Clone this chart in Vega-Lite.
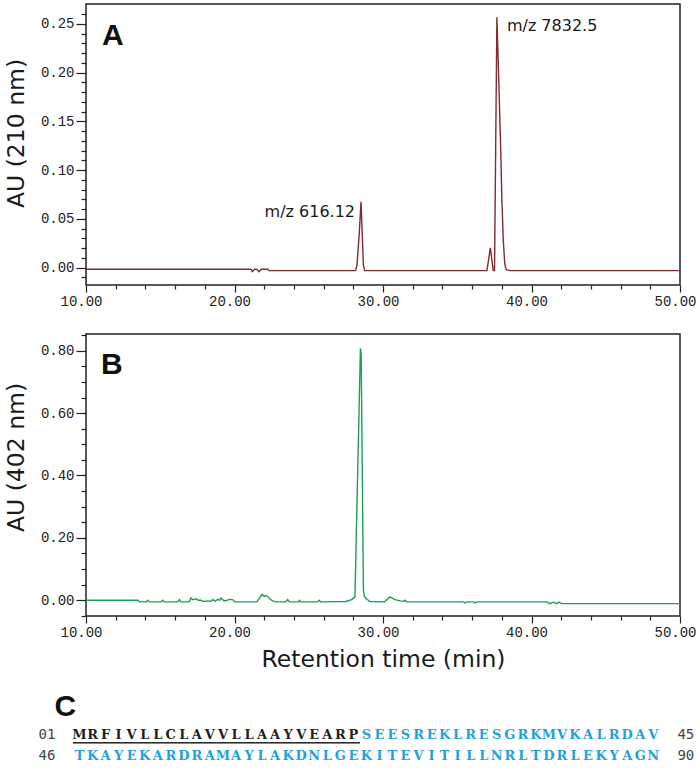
{
"$schema": "https://vega.github.io/schema/vega-lite/v6.json",
"padding": {"left": 3, "top": 3, "right": 0, "bottom": 0},
"spacing": 20,
"config": {
 "view": {"stroke": "#222", "strokeWidth": 1.5},
 "axis": {"labelFont": "Liberation Mono", "labelFontSize": 14, "labelColor": "#222", "tickColor": "#222", "tickWidth": 1.2, "domain": false, "grid": false, "labelOverlap": false, "labelFlush": false, "titleFont": "DejaVu Sans", "titleFontSize": 23.5, "titleFontWeight": "normal", "titleColor": "#1a1a1a"}
},
"datasets": {
 "traceA": [
  {"t": 10, "au": -0.0015}, {"t": 21.1, "au": -0.0015}, {"t": 21.2, "au": -0.004}, {"t": 21.35, "au": -0.0015}, {"t": 21.5, "au": -0.0015}, {"t": 21.65, "au": -0.004}, {"t": 21.8, "au": -0.0015}, {"t": 22.25, "au": -0.0015}, {"t": 22.32, "au": -0.003},
  {"t": 28.15, "au": -0.003}, {"t": 28.25, "au": 0.003}, {"t": 28.4, "au": 0.035}, {"t": 28.52, "au": 0.0677}, {"t": 28.6, "au": 0.035}, {"t": 28.68, "au": 0.003}, {"t": 28.76, "au": -0.003},
  {"t": 37.0, "au": -0.003}, {"t": 37.23, "au": 0.0205}, {"t": 37.42, "au": -0.003}, {"t": 37.51, "au": -0.003}, {"t": 37.67, "au": 0.257}, {"t": 37.8, "au": 0.19}, {"t": 37.92, "au": 0.125}, {"t": 38.01, "au": 0.068}, {"t": 38.1, "au": 0.028}, {"t": 38.2, "au": 0.004}, {"t": 38.3, "au": -0.002}, {"t": 38.55, "au": -0.003}, {"t": 50, "au": -0.003}
 ],
 "peaksA": [
  {"t": 28.52, "au": 0.0677, "label": "m/z 616.12", "side": "left"},
  {"t": 37.67, "au": 0.257, "label": "m/z 7832.5", "side": "right"}
 ],
 "traceB": [
  {"t": 10, "au": 0}, {"t": 13.48, "au": 0}, {"t": 13.6, "au": -0.005}, {"t": 14.05, "au": -0.005}, {"t": 14.15, "au": 0}, {"t": 14.25, "au": -0.005}, {"t": 15.05, "au": -0.005}, {"t": 15.16, "au": 0}, {"t": 15.27, "au": -0.005}, {"t": 16.18, "au": -0.005}, {"t": 16.29, "au": 0.002}, {"t": 16.4, "au": -0.005}, {"t": 16.95, "au": -0.005}, {"t": 17.07, "au": 0.0075}, {"t": 17.2, "au": 0.002}, {"t": 17.41, "au": 0.005}, {"t": 17.55, "au": 0}, {"t": 17.74, "au": 0}, {"t": 17.9, "au": -0.004}, {"t": 18.2, "au": -0.002}, {"t": 18.4, "au": -0.004}, {"t": 18.53, "au": 0.002}, {"t": 18.7, "au": -0.003}, {"t": 18.87, "au": 0.003}, {"t": 19.0, "au": 0}, {"t": 19.09, "au": 0.0075}, {"t": 19.2, "au": 0.002}, {"t": 19.32, "au": -0.002}, {"t": 19.5, "au": 0}, {"t": 19.65, "au": 0.003}, {"t": 19.88, "au": 0.002}, {"t": 20.0, "au": -0.005},
  {"t": 21.5, "au": -0.005}, {"t": 21.67, "au": 0.005}, {"t": 21.85, "au": 0.019}, {"t": 22.0, "au": 0.012}, {"t": 22.12, "au": 0.016}, {"t": 22.3, "au": 0.0086}, {"t": 22.45, "au": 0.002}, {"t": 22.57, "au": -0.002}, {"t": 22.8, "au": -0.005}, {"t": 23.45, "au": -0.005}, {"t": 23.58, "au": 0.002}, {"t": 23.7, "au": -0.005}, {"t": 24.3, "au": -0.005}, {"t": 24.37, "au": 0}, {"t": 24.45, "au": -0.005}, {"t": 25.6, "au": -0.005}, {"t": 25.71, "au": 0}, {"t": 25.8, "au": -0.005}, {"t": 27.5, "au": -0.004}, {"t": 27.89, "au": 0.002}, {"t": 28.11, "au": 0.011},
  {"t": 28.48, "au": 0.808}, {"t": 28.53, "au": 0.79}, {"t": 28.68, "au": 0.032}, {"t": 28.75, "au": 0.012}, {"t": 28.9, "au": 0.004}, {"t": 29.12, "au": -0.004}, {"t": 30.1, "au": -0.005}, {"t": 30.47, "au": 0.0107}, {"t": 30.81, "au": 0.002}, {"t": 31.15, "au": -0.002}, {"t": 31.4, "au": -0.003}, {"t": 31.48, "au": 0}, {"t": 31.6, "au": -0.005},
  {"t": 35.41, "au": -0.005}, {"t": 35.52, "au": -0.0086}, {"t": 35.62, "au": -0.005}, {"t": 36.1, "au": -0.005}, {"t": 36.2, "au": -0.0086}, {"t": 36.3, "au": -0.005}, {"t": 41.02, "au": -0.005}, {"t": 41.25, "au": -0.0107}, {"t": 41.47, "au": -0.006}, {"t": 41.7, "au": -0.0107}, {"t": 41.85, "au": -0.006}, {"t": 42.03, "au": -0.0107}, {"t": 50, "au": -0.0107}
 ],
 "lines": [
  {"line": 1, "first": "01", "last": "45"},
  {"line": 2, "first": "46", "last": "90"}
 ],
 "residues": [
  {"n":1,"aa":"M","line":1,"pos":1,"region":"signal peptide"},{"n":2,"aa":"R","line":1,"pos":2,"region":"signal peptide"},{"n":3,"aa":"F","line":1,"pos":3,"region":"signal peptide"},{"n":4,"aa":"I","line":1,"pos":4,"region":"signal peptide"},{"n":5,"aa":"V","line":1,"pos":5,"region":"signal peptide"},{"n":6,"aa":"L","line":1,"pos":6,"region":"signal peptide"},{"n":7,"aa":"L","line":1,"pos":7,"region":"signal peptide"},{"n":8,"aa":"C","line":1,"pos":8,"region":"signal peptide"},{"n":9,"aa":"L","line":1,"pos":9,"region":"signal peptide"},{"n":10,"aa":"A","line":1,"pos":10,"region":"signal peptide"},{"n":11,"aa":"V","line":1,"pos":11,"region":"signal peptide"},{"n":12,"aa":"V","line":1,"pos":12,"region":"signal peptide"},{"n":13,"aa":"L","line":1,"pos":13,"region":"signal peptide"},{"n":14,"aa":"L","line":1,"pos":14,"region":"signal peptide"},{"n":15,"aa":"A","line":1,"pos":15,"region":"signal peptide"},{"n":16,"aa":"A","line":1,"pos":16,"region":"signal peptide"},{"n":17,"aa":"Y","line":1,"pos":17,"region":"signal peptide"},{"n":18,"aa":"V","line":1,"pos":18,"region":"signal peptide"},{"n":19,"aa":"E","line":1,"pos":19,"region":"signal peptide"},{"n":20,"aa":"A","line":1,"pos":20,"region":"signal peptide"},{"n":21,"aa":"R","line":1,"pos":21,"region":"signal peptide"},{"n":22,"aa":"P","line":1,"pos":22,"region":"signal peptide"},
  {"n":23,"aa":"S","line":1,"pos":23,"region":"mature"},{"n":24,"aa":"E","line":1,"pos":24,"region":"mature"},{"n":25,"aa":"E","line":1,"pos":25,"region":"mature"},{"n":26,"aa":"S","line":1,"pos":26,"region":"mature"},{"n":27,"aa":"R","line":1,"pos":27,"region":"mature"},{"n":28,"aa":"E","line":1,"pos":28,"region":"mature"},{"n":29,"aa":"K","line":1,"pos":29,"region":"mature"},{"n":30,"aa":"L","line":1,"pos":30,"region":"mature"},{"n":31,"aa":"R","line":1,"pos":31,"region":"mature"},{"n":32,"aa":"E","line":1,"pos":32,"region":"mature"},{"n":33,"aa":"S","line":1,"pos":33,"region":"mature"},{"n":34,"aa":"G","line":1,"pos":34,"region":"mature"},{"n":35,"aa":"R","line":1,"pos":35,"region":"mature"},{"n":36,"aa":"K","line":1,"pos":36,"region":"mature"},{"n":37,"aa":"M","line":1,"pos":37,"region":"mature"},{"n":38,"aa":"V","line":1,"pos":38,"region":"mature"},{"n":39,"aa":"K","line":1,"pos":39,"region":"mature"},{"n":40,"aa":"A","line":1,"pos":40,"region":"mature"},{"n":41,"aa":"L","line":1,"pos":41,"region":"mature"},{"n":42,"aa":"R","line":1,"pos":42,"region":"mature"},{"n":43,"aa":"D","line":1,"pos":43,"region":"mature"},{"n":44,"aa":"A","line":1,"pos":44,"region":"mature"},{"n":45,"aa":"V","line":1,"pos":45,"region":"mature"},
  {"n":46,"aa":"T","line":2,"pos":1,"region":"mature"},{"n":47,"aa":"K","line":2,"pos":2,"region":"mature"},{"n":48,"aa":"A","line":2,"pos":3,"region":"mature"},{"n":49,"aa":"Y","line":2,"pos":4,"region":"mature"},{"n":50,"aa":"E","line":2,"pos":5,"region":"mature"},{"n":51,"aa":"K","line":2,"pos":6,"region":"mature"},{"n":52,"aa":"A","line":2,"pos":7,"region":"mature"},{"n":53,"aa":"R","line":2,"pos":8,"region":"mature"},{"n":54,"aa":"D","line":2,"pos":9,"region":"mature"},{"n":55,"aa":"R","line":2,"pos":10,"region":"mature"},{"n":56,"aa":"A","line":2,"pos":11,"region":"mature"},{"n":57,"aa":"M","line":2,"pos":12,"region":"mature"},{"n":58,"aa":"A","line":2,"pos":13,"region":"mature"},{"n":59,"aa":"Y","line":2,"pos":14,"region":"mature"},{"n":60,"aa":"L","line":2,"pos":15,"region":"mature"},{"n":61,"aa":"A","line":2,"pos":16,"region":"mature"},{"n":62,"aa":"K","line":2,"pos":17,"region":"mature"},{"n":63,"aa":"D","line":2,"pos":18,"region":"mature"},{"n":64,"aa":"N","line":2,"pos":19,"region":"mature"},{"n":65,"aa":"L","line":2,"pos":20,"region":"mature"},{"n":66,"aa":"G","line":2,"pos":21,"region":"mature"},{"n":67,"aa":"E","line":2,"pos":22,"region":"mature"},{"n":68,"aa":"K","line":2,"pos":23,"region":"mature"},{"n":69,"aa":"I","line":2,"pos":24,"region":"mature"},{"n":70,"aa":"T","line":2,"pos":25,"region":"mature"},{"n":71,"aa":"E","line":2,"pos":26,"region":"mature"},{"n":72,"aa":"V","line":2,"pos":27,"region":"mature"},{"n":73,"aa":"I","line":2,"pos":28,"region":"mature"},{"n":74,"aa":"T","line":2,"pos":29,"region":"mature"},{"n":75,"aa":"I","line":2,"pos":30,"region":"mature"},{"n":76,"aa":"L","line":2,"pos":31,"region":"mature"},{"n":77,"aa":"L","line":2,"pos":32,"region":"mature"},{"n":78,"aa":"N","line":2,"pos":33,"region":"mature"},{"n":79,"aa":"R","line":2,"pos":34,"region":"mature"},{"n":80,"aa":"L","line":2,"pos":35,"region":"mature"},{"n":81,"aa":"T","line":2,"pos":36,"region":"mature"},{"n":82,"aa":"D","line":2,"pos":37,"region":"mature"},{"n":83,"aa":"R","line":2,"pos":38,"region":"mature"},{"n":84,"aa":"L","line":2,"pos":39,"region":"mature"},{"n":85,"aa":"E","line":2,"pos":40,"region":"mature"},{"n":86,"aa":"K","line":2,"pos":41,"region":"mature"},{"n":87,"aa":"Y","line":2,"pos":42,"region":"mature"},{"n":88,"aa":"A","line":2,"pos":43,"region":"mature"},{"n":89,"aa":"G","line":2,"pos":44,"region":"mature"},{"n":90,"aa":"N","line":2,"pos":45,"region":"mature"}
 ]
},
"vconcat": [
 {
  "spacing": 24,
  "vconcat": [
   {
    "width": 594, "height": 281,
    "resolve": {"axis": {"x": "independent", "y": "independent"}},
    "layer": [
     {"data": {"name": "traceA"},
      "mark": {"type": "line", "color": "#7e2b33", "strokeWidth": 1.4, "clip": true},
      "encoding": {
       "x": {"field": "t", "type": "quantitative", "scale": {"domain": [10, 50], "nice": false, "zero": false},
        "axis": {"title": null, "orient": "bottom", "values": [10, 20, 30, 40, 50], "format": ".2f", "tickSize": 7, "labelPadding": 2, "labelOffset": -5}},
       "y": {"field": "au", "type": "quantitative", "scale": {"domain": [-0.0177, 0.2705], "nice": false, "zero": false},
        "axis": {"title": "AU (210 nm)", "orient": "left", "titleY": 129, "titlePadding": 12, "values": [0, 0.05, 0.1, 0.15, 0.2, 0.25], "format": ".2f", "tickSize": 10, "labelPadding": 2}}
      }},
     {"data": {"name": "peaksA"}, "transform": [{"filter": "datum.side == 'left'"}],
      "mark": {"type": "text", "align": "right", "baseline": "middle", "dx": -6, "dy": 10, "font": "DejaVu Sans", "fontSize": 16, "color": "#1a1a1a"},
      "encoding": {"x": {"field": "t", "type": "quantitative", "axis": null}, "y": {"field": "au", "type": "quantitative", "axis": null}, "text": {"field": "label"}}},
     {"data": {"name": "peaksA"}, "transform": [{"filter": "datum.side == 'right'"}],
      "mark": {"type": "text", "align": "left", "baseline": "middle", "dx": 10, "dy": 9, "font": "DejaVu Sans", "fontSize": 16, "color": "#1a1a1a"},
      "encoding": {"x": {"field": "t", "type": "quantitative", "axis": null}, "y": {"field": "au", "type": "quantitative", "axis": null}, "text": {"field": "label"}}},
     {"data": {"values": [{"panel": "A"}]},
      "mark": {"type": "text", "align": "left", "baseline": "alphabetic", "font": "Liberation Sans", "fontSize": 30, "fontWeight": "bold", "color": "#111"},
      "encoding": {
       "x": {"datum": 11.08, "type": "quantitative", "axis": {"title": null, "orient": "bottom", "labels": false, "tickSize": 4, "values": [12,14,16,18,22,24,26,28,32,34,36,38,42,44,46,48]}},
       "y": {"datum": 0.2285, "type": "quantitative", "axis": {"title": null, "orient": "left", "labels": false, "tickSize": 5, "values": [-0.01,0.01,0.02,0.03,0.04,0.06,0.07,0.08,0.09,0.11,0.12,0.13,0.14,0.16,0.17,0.18,0.19,0.21,0.22,0.23,0.24,0.26]}},
       "text": {"field": "panel"}}}
    ]
   },
   {
    "width": 594, "height": 282,
    "resolve": {"axis": {"x": "independent", "y": "independent"}},
    "layer": [
     {"data": {"name": "traceB"},
      "mark": {"type": "line", "color": "#1f9e55", "strokeWidth": 1.4, "clip": true},
      "encoding": {
       "x": {"field": "t", "type": "quantitative", "scale": {"domain": [10, 50], "nice": false, "zero": false},
        "axis": {"title": "Retention time  (min)", "orient": "bottom", "titlePadding": 8, "values": [10, 20, 30, 40, 50], "format": ".2f", "tickSize": 7, "labelPadding": 2, "labelOffset": -5}},
       "y": {"field": "au", "type": "quantitative", "scale": {"domain": [-0.0504, 0.8536], "nice": false, "zero": false},
        "axis": {"title": "AU (402 nm)", "orient": "left", "titleY": 123, "titlePadding": 12, "values": [0, 0.2, 0.4, 0.6, 0.8], "format": ".2f", "tickSize": 10, "labelPadding": 2}}
      }},
     {"data": {"values": [{"panel": "B"}]},
      "mark": {"type": "text", "align": "left", "baseline": "alphabetic", "font": "Liberation Sans", "fontSize": 30, "fontWeight": "bold", "color": "#111"},
      "encoding": {
       "x": {"datum": 11.01, "type": "quantitative", "axis": {"title": null, "orient": "bottom", "labels": false, "tickSize": 4, "values": [12,14,16,18,22,24,26,28,32,34,36,38,42,44,46,48]}},
       "y": {"datum": 0.7253, "type": "quantitative", "axis": {"title": null, "orient": "left", "labels": false, "tickSize": 5, "values": [-0.05,0.05,0.1,0.15,0.25,0.3,0.35,0.45,0.5,0.55,0.65,0.7,0.75,0.85]}},
       "text": {"field": "panel"}}}
    ]
   }
  ]
 },
 {
  "width": 594, "height": 43.2,
  "view": {"stroke": null},
  "title": {"text": "C", "anchor": "start", "dx": 16, "offset": 2, "font": "Liberation Sans", "fontSize": 30, "fontWeight": "bold", "color": "#111"},
  "layer": [
   {"data": {"name": "residues"},
    "mark": {"type": "text", "font": "DejaVu Serif", "fontWeight": "bold", "fontSize": 13, "baseline": "middle", "align": "center"},
    "encoding": {
     "x": {"field": "pos", "type": "quantitative", "scale": {"domain": [1.498, 47.05], "nice": false, "zero": false}, "axis": null},
     "y": {"field": "line", "type": "quantitative", "scale": {"domain": [0.5, 2.5], "reverse": true, "nice": false, "zero": false}, "axis": null},
     "text": {"field": "aa"},
     "color": {"field": "region", "type": "nominal", "scale": {"domain": ["signal peptide", "mature"], "range": ["#231f20", "#1ea2dd"]}, "legend": null}
    }},
   {"data": {"name": "residues"}, "transform": [{"filter": "datum.region == 'signal peptide'"}],
    "mark": {"type": "rule", "color": "#231f20", "strokeWidth": 1.5, "xOffset": -6.6, "x2Offset": 6.6, "yOffset": 8},
    "encoding": {"x": {"field": "pos", "type": "quantitative"}, "x2": {"field": "pos"}, "y": {"field": "line", "type": "quantitative"}}},
   {"data": {"name": "lines"},
    "mark": {"type": "text", "font": "DejaVu Sans Mono", "fontSize": 14, "color": "#444", "align": "center", "baseline": "middle"},
    "encoding": {"x": {"datum": -1.5}, "y": {"field": "line", "type": "quantitative"}, "text": {"field": "first"}}},
   {"data": {"name": "lines"},
    "mark": {"type": "text", "font": "DejaVu Sans Mono", "fontSize": 14, "color": "#444", "align": "center", "baseline": "middle"},
    "encoding": {"x": {"datum": 47.5}, "y": {"field": "line", "type": "quantitative"}, "text": {"field": "last"}}}
  ]
 }
]
}
